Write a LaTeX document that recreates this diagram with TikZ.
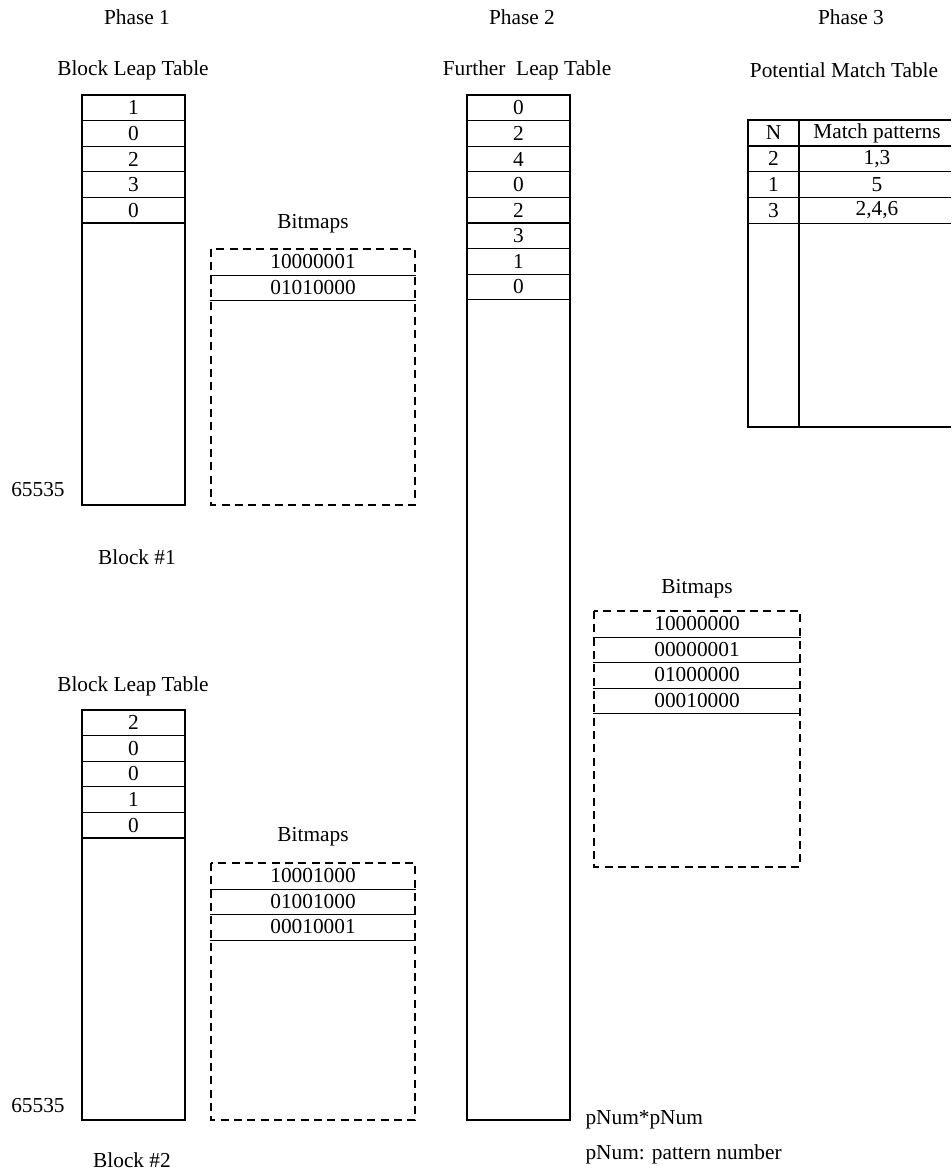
\documentclass[tikz,border=0pt]{standalone}
\usepackage{fontspec}
\setmainfont{Liberation Serif}
\usetikzlibrary{positioning}

\begin{document}
\begin{tikzpicture}[
        x=0.75pt, y=-0.75pt,
        font=\fontsize{16}{19}\selectfont,
        line width=0.8pt,
        lbl/.style={inner sep=0pt},
        cell/.style={draw, minimum width=77.25pt, minimum height=19.2pt, inner sep=0pt},
        bit/.style={minimum width=153pt, minimum height=19.125pt, inner sep=0pt},
        dashbox/.style={dash pattern=on 6pt off 4pt}
      ]
        \useasboundingbox (0,0) rectangle (951,1173);

        \node[lbl] (ph1) at (137,17) {Phase 1};
        \node[lbl] (ph2) at (522,17) {Phase 2};
        \node[lbl] (ph3) at (851,17) {Phase 3};

        \node[lbl] (blt1lbl) at (133,70) {Block Leap Table};
        \draw (82,95) rectangle (185,505);
        \foreach \v [count=\i from 0] in {1,0,2,3,0}
          \node[cell] (blt1-\i) at (133.5,{107.8+25.6*\i}) {\v};
        \node[lbl] (max1) at (38,490) {65535};
        \node[lbl] (blk1) at (137,557) {Block \#1};

        \node[lbl] (bm1lbl) at (313,224) {Bitmaps};
        \draw[dashbox] (211,249) rectangle (415,505);
        \foreach \v [count=\i from 0] in {10000001,01010000} {
          \node[bit] (bm1-\i) at (313,{261.75+25.5*\i}) {\v};
          \draw (bm1-\i.south west) -- (bm1-\i.south east);
        }

        \node[lbl] (blt2lbl) at (133,686) {Block Leap Table};
        \draw (82,710) rectangle (185,1120);
        \foreach \v [count=\i from 0] in {2,0,0,1,0}
          \node[cell] (blt2-\i) at (133.5,{722.8+25.6*\i}) {\v};
        \node[lbl] (max2) at (38,1106) {65535};
        \node[lbl] (blk2) at (132,1160) {Block \#2};

        \node[lbl] (bm2lbl) at (313,837) {Bitmaps};
        \draw[dashbox] (211,863) rectangle (415,1120);
        \foreach \v [count=\i from 0] in {10001000,01001000,00010001} {
          \node[bit] (bm2-\i) at (313,{875.75+25.5*\i}) {\v};
          \draw (bm2-\i.south west) -- (bm2-\i.south east);
        }

        \node[lbl] (fltlbl) at (527,70) {Further~ Leap Table};
        \draw (467,95) rectangle (570,1120);
        \foreach \v [count=\i from 0] in {0,2,4,0,2,3,1,0}
          \node[cell] (flt-\i) at (518.5,{107.8+25.6*\i}) {\v};

        \node[lbl] (bm3lbl) at (697,589) {Bitmaps};
        \draw[dashbox] (594,611) rectangle (800,867);
        \foreach \v [count=\i from 0] in {10000000,00000001,01000000,00010000} {
          \node[bit, minimum width=154.5pt] (bm3-\i) at (697,{623.75+25.5*\i}) {\v};
          \draw (bm3-\i.south west) -- (bm3-\i.south east);
        }

        \node[lbl, anchor=west] (pnn) at (585,1120) {pNum*pNum};
        \node[lbl, anchor=west] (pnote) at (585,1154) {pNum: pattern number};

        \node[lbl] (pmtlbl) at (844,70) {Potential Match Table};
        \draw (951,120) -- (748,120) -- (748,427) -- (951,427);
        \draw (799,120) -- (799,427);
        \foreach \n/\p [count=\i from 0] in {N/Match patterns,2/{1,3},1/5,3/{2,4,6}} {
          \node[lbl] (pmN-\i) at (773.5,{132.9+25.75*\i}) {\n};
          \node[lbl] (pmP-\i) at (877,{132.9+25.75*\i}) {\p};
          \draw (748,{146+25.75*\i}) -- (951,{146+25.75*\i});
        }
      \end{tikzpicture}
\end{document}
